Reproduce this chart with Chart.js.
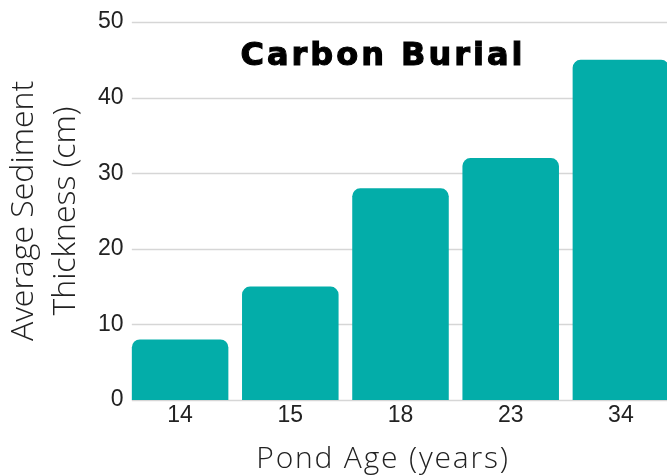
<!DOCTYPE html>
<html>
<head>
<meta charset="utf-8">
<script src="https://cdn.jsdelivr.net/npm/chart.js@4"></script>
<style>
  html, body { margin: 0; padding: 0; background: #fff; }
  #wrap { position: relative; width: 667px; height: 475px; overflow: hidden; }
  #box { position: absolute; left: 0; top: 0; width: 680px; height: 475px; }
  .lbl { position: absolute; white-space: nowrap; color: #111; line-height: 1; transform: translateX(-50%); }
  #title { left: 383px; top: 35px; font: bold 32px "DejaVu Sans", sans-serif; letter-spacing: 3px; -webkit-text-stroke: 1.1px #000; color: #000; }
  #xtitle { left: 383px; top: 436px; font: 300 30px "Open Sans", sans-serif; letter-spacing: 1.8px; color: #222; }
</style>
</head>
<body>
<div id="wrap">
  <div id="box"><canvas id="chart"></canvas></div>
  <div id="title" class="lbl">Carbon Burial</div>
  <div id="xtitle" class="lbl">Pond Age (years)</div>
</div>
<script>
// pond ages and mean sediment depth
const ages = ["14", "15", "18", "23", "34"];
const thickness = [8, 15, 28, 32, 45];
const yTitle = ["Average Sediment", "Thickness (cm)"];

const TEAL = "#03ADA9";
const GRID = "#d6d6d6";

// gridlines start at the first bar's left edge, not at the axis
const gridFromBars = {
  id: "gridFromBars",
  beforeDatasetsDraw(chart) {
    const bar = chart.getDatasetMeta(0).data[0];
    if (!bar) return;
    const x0 = bar.x - bar.width / 2;
    const { ctx, chartArea, scales } = chart;
    ctx.save();
    ctx.strokeStyle = GRID;
    ctx.lineWidth = 1.5;
    scales.y.ticks.forEach((t) => {
      const y = Math.round(scales.y.getPixelForValue(t.value)) + 0.5;
      ctx.beginPath();
      ctx.moveTo(x0, y);
      ctx.lineTo(chartArea.right, y);
      ctx.stroke();
    });
    ctx.restore();
  },
};

new Chart(document.getElementById("chart"), {
  type: "bar",
  data: {
    labels: ages,
    datasets: [
      {
        data: thickness,
        backgroundColor: TEAL,
        borderRadius: 8,
        barPercentage: 0.876,
        categoryPercentage: 1,
      },
    ],
  },
  options: {
    responsive: true,
    maintainAspectRatio: false,
    animation: false,
    layout: { padding: { top: 22, right: 4, bottom: 0, left: 0 } },
    plugins: {
      legend: { display: false },
      tooltip: { enabled: false },
    },
    scales: {
      x: {
        grid: { display: false, drawTicks: false },
        border: { display: false },
        ticks: {
          padding: 2,
          color: "#222",
          font: { family: "Liberation Sans", size: 23 },
        },
        afterFit: (s) => { s.height = 75; },
      },
      y: {
        min: 0,
        max: 50,
        grid: { display: false, drawTicks: false },
        border: { display: false },
        ticks: {
          stepSize: 10,
          padding: 1.5,
          color: "#222",
          font: { family: "Liberation Sans", size: 23 },
        },
        title: {
          display: true,
          text: yTitle,
          color: "#222",
          padding: { top: 3, bottom: 0 },
          font: { family: "Open Sans", weight: 300, size: 32, lineHeight: 1.31 },
        },
        afterFit: (s) => { s.width = 125; },
      },
    },
  },
  plugins: [gridFromBars],
});
</script>
</body>
</html>
